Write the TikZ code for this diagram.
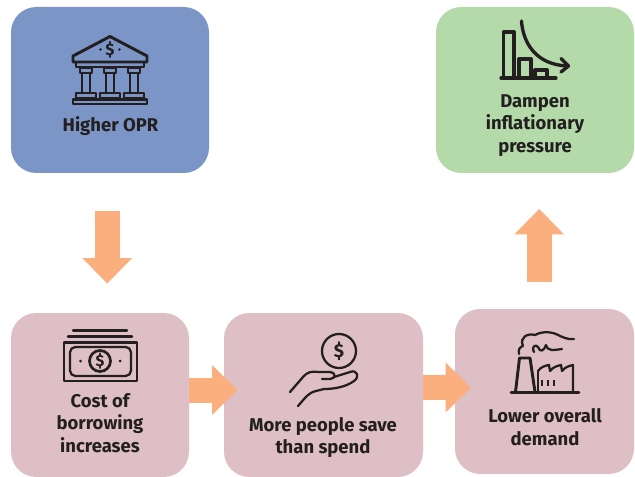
\documentclass[tikz,border=0pt]{standalone}
\usepackage{fontspec}
\setmainfont{Fira Sans}
\usetikzlibrary{arrows.meta}
\definecolor{blueb}{HTML}{7A95C6}
\definecolor{greenb}{HTML}{B4DAA9}
\definecolor{pinkb}{HTML}{DEBFC5}
\definecolor{arr}{HTML}{FBAF7F}
\definecolor{ink}{HTML}{231F20}
\tikzset{
  boxbase/.style={fill=#1,draw=none,rounded corners=19pt,inner sep=0pt},
  lab/.style={font=\fontsize{13.85}{17}\selectfont\bfseries,text=ink,align=center,inner sep=0pt},
  blockarrow/.style={draw=arr,line width=18.75pt,-{Triangle[length=19pt,width=37.2pt,fill=arr,line width=0pt]}},
  icon/.style={draw=ink,line width=2.2pt,line join=round,line cap=round},
  iconthin/.style={draw=ink,line width=1.7pt,line join=round,line cap=round},
}
\begin{document}
\begin{tikzpicture}[x=0.75pt,y=-0.75pt]
\useasboundingbox (0,0) rectangle (635,477);
\fill[white] (0,0) rectangle (635,477);
% boxes
\node[boxbase=blueb,minimum width=148.5pt,minimum height=124.5pt] (opr) at (110,90) {};
\node[boxbase=greenb,minimum width=148.5pt,minimum height=124.5pt] (damp) at (535,90) {};
\node[boxbase=pinkb,minimum width=133.5pt,minimum height=123pt] (cost) at (100,395) {};
\node[boxbase=pinkb,minimum width=149.25pt,minimum height=123pt] (save) at (323.5,395) {};
\node[boxbase=pinkb,minimum width=134.25pt,minimum height=123.75pt] (demand) at (544.5,391.5) {};
% labels
\node[lab] (t1) at (110.5,126) {Higher OPR};
\node[lab] (t2) at (535,125.5) {Dampen\\inflationary\\pressure};
\node[lab] (t3) at (100,423) {Cost of\\borrowing\\increases};
\node[lab] (t4) at (323,437.5) {More people save\\than spend};
\node[lab] (t5) at (545,427.2) {Lower overall\\demand};
% connectors
\coordinate (a1s) at (107.2,211); \coordinate (a1e) at (107.2,283.5);
\coordinate (a2s) at (189,390); \coordinate (a2e) at (237.5,390);
\coordinate (a3s) at (423,387.5); \coordinate (a3e) at (471,387.5);
\coordinate (a4s) at (539.2,282); \coordinate (a4e) at (539.2,209);
\draw[blockarrow] (a1s) -- (a1e);
\draw[blockarrow] (a2s) -- (a2e);
\draw[blockarrow] (a3s) -- (a3e);
\draw[blockarrow] (a4s) -- (a4e);
% bank icon
\begin{scope}[shift={(40,21)}]
\draw[icon] (33,35) -- (70,15.5) -- (107,35) -- (107,41) -- (33,41) -- cycle;
\draw[icon] (36,41) rectangle (104,46);
\foreach \xx in {46,70,94}{
  \draw[icon] (\xx-6,47) rectangle (\xx+6,52);
  \draw[icon] (\xx-4,52) -- (\xx-4,72) (\xx+4,52) -- (\xx+4,72);
  \draw[icon] (\xx-10,72) rectangle (\xx+10,77);
}
\draw[icon] (33,78.5) rectangle (107,83);
\node[font=\fontsize{12.5}{13}\selectfont\bfseries,text=ink,inner sep=0pt] (dol1) at (70,28.5) {\$};
\fill[ink] (60.5,28.5) circle (1.4) (79.5,28.5) circle (1.4);
\end{scope}
% chart icon
\begin{scope}[shift={(470,15)}]
\draw[icon,line width=2.5pt] (31,63) -- (86,63);
\draw[icon,line width=2.5pt] (33.5,62) -- (33.5,17) -- (44,17) -- (44,62);
\draw[icon,line width=2.5pt] (49,61) -- (49,44) -- (61,44) -- (61,61);
\draw[icon,line width=2.5pt] (65,61) -- (65,55) -- (77,55) -- (77,61);
\draw[icon,line width=2.5pt] (51.5,6) .. controls (53,28) and (66,50) .. (98,51);
\draw[icon,line width=2.5pt] (91,43.5) -- (98.5,51) -- (91,57);
\end{scope}
% money icon
\begin{scope}[shift={(50,325)}]
\draw[iconthin] (23,5.5) -- (77,5.5);
\draw[icon] (18,11.5) -- (82,11.5);
\draw[icon,line cap=butt] (14,17.5) rectangle (87,56);
\draw[iconthin,rounded corners=4pt] (20,22) rectangle (81,51);
\draw[iconthin,line width=2pt] (50,36) circle (10.5);
\node[font=\fontsize{12}{12}\selectfont\bfseries,text=ink,inner sep=0pt] (dol2) at (50,36) {\$};
\fill[ink] (30.5,36) circle (1.5) (70,36) circle (1.5);
\end{scope}
% hand icon
\begin{scope}[shift={(280,325)}]
\draw[iconthin] (59,26) circle (17);
\node[font=\fontsize{14}{14}\selectfont\bfseries,text=ink,inner sep=0pt] (dol3) at (59,26.5) {\$};
\draw[iconthin] (10,67) -- (23,52) .. controls (27,47) and (32,46) .. (38,47) -- (50,47)
  .. controls (56,47) and (56,54) .. (50,54) -- (42,54);
\draw[iconthin] (54,52) -- (70,47) .. controls (77,44) and (80,52) .. (74,56)
  .. controls (66,62) and (54,64) .. (44,64) -- (36,66) .. controls (28,68) and (26,72) .. (18,81);
\end{scope}
% factory icon
\begin{scope}[shift={(500,325)}]
\draw[icon] (11,67.5) -- (79,67.5);
\draw[icon] (15.5,67) -- (19.5,33) -- (30,33) -- (35,67);
\draw[iconthin] (38,46) .. controls (41,42) and (44,41) .. (49,40) -- (50,46)
  .. controls (53,42) and (57,41) .. (61,40) -- (62,46) .. controls (65,42) and (69,41) .. (73,40) -- (73,67);
\draw[iconthin] (38,46) -- (38,67);
\draw[iconthin] (19,29) .. controls (18,24) and (20,22) .. (23,21) .. controls (19,12) and (28,8) .. (35,10)
  .. controls (40,7) and (48,6) .. (56,9) .. controls (62,12) and (68,15) .. (74,14);
\draw[iconthin] (34,27) .. controls (31,21) and (36,19) .. (38,22) .. controls (40,28) and (44,26) .. (46,20)
  .. controls (48,27) and (54,25) .. (62,24);
\foreach \xx in {42,48,54}{\draw[draw=ink,line width=2pt] (\xx,55) -- (\xx,61);}
\end{scope}
\end{tikzpicture}
\end{document}
